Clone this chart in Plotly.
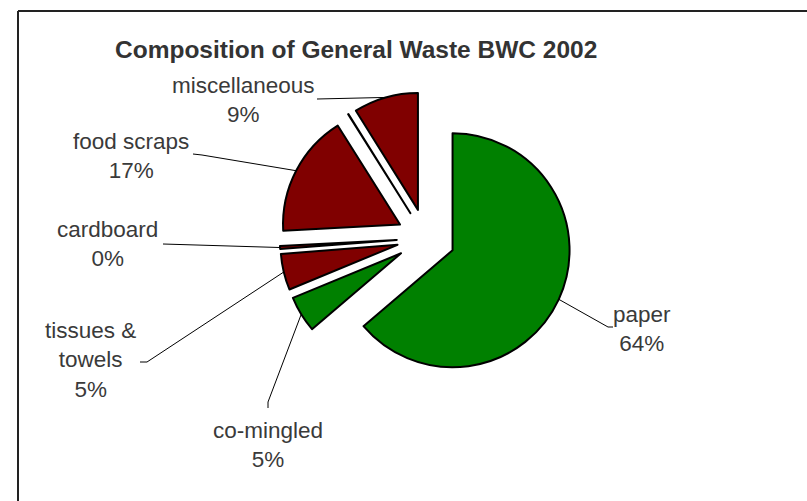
import numpy as np
import plotly.graph_objects as go

W, H = 807, 501

# data (clockwise from 12 o'clock)
labels = ["paper", "co-mingled", "tissues &<br>towels", "cardboard", "food scraps", "other", "miscellaneous"]
values = [63.8, 5.0, 5.0, 0.4, 16.9, 0.05, 8.9]
colors = ["#008000", "#008000", "#800000", "#800000", "#800000", "#800000", "#800000"]
show_label = [True, True, True, True, True, False, True]

# layout bits (pixels)
cx, cy, r, pull = 426, 238, 117, 0.25
label_xy = [(642, 329), (268, 445), (90, 360), (108, 244), (131, 156), (243, 100)]
leader_tail = [(613, 327), (268, 408), (140, 362), (163, 244), (193, 154), (317, 99)]
leader_bend = [(608, 327), (268, 402), (147, 362), (163, 244), (202, 155), (317, 99)]


def px(x):
    return x / W


def py(y):
    return 1 - y / H


half = r * (1 + pull)
fig = go.Figure(go.Pie(
    labels=labels, values=values, sort=False, direction="clockwise", rotation=0,
    pull=[pull] * len(values),
    marker=dict(colors=colors, line=dict(color="black", width=2)),
    textinfo="none", hoverinfo="label+percent", showlegend=False,
    domain=dict(x=[px(cx - half), px(cx + half)], y=[py(cy + half), py(cy - half)]),
))

total = sum(values)
start = np.cumsum([0] + values[:-1])
mid_deg = (start + np.array(values) / 2) / total * 360

font = dict(family="Liberation Sans, Arial, sans-serif", size=22.5, color="#3a3a3a")
annotations = []
shapes = []
j = 0
for i, lab in enumerate(labels):
    if not show_label[i]:
        continue
    pct = round(values[i] / total * 100)
    lx, ly = label_xy[j]
    annotations.append(dict(x=px(lx), y=py(ly), xref="paper", yref="paper",
                            text=f"{lab}<br>{pct}%", showarrow=False, font=font,
                            xanchor="center", yanchor="middle", align="center"))
    a = np.radians(mid_deg[i])
    ex = cx + half * np.sin(a)
    ey = cy - half * np.cos(a)
    tx, ty = leader_tail[j]
    bx, by = leader_bend[j]
    path = f"M{px(tx)},{py(ty)} L{px(bx)},{py(by)} L{px(ex)},{py(ey)}"
    shapes.append(dict(type="path", path=path, xref="paper", yref="paper",
                       line=dict(color="black", width=1)))
    j += 1

annotations.append(dict(x=px(356), y=py(50), xref="paper", yref="paper",
                        text="<b>Composition of General Waste BWC 2002</b>", showarrow=False,
                        font=dict(family="Liberation Sans, Arial, sans-serif", size=24.5, color="#333333"),
                        xanchor="center", yanchor="middle"))

# chart frame (only top and left edges are inside the picture)
shapes.append(dict(type="line", xref="paper", yref="paper", x0=px(18), y0=py(11), x1=1.02, y1=py(11),
                   line=dict(color="#222222", width=2)))
shapes.append(dict(type="line", xref="paper", yref="paper", x0=px(18), y0=py(11), x1=px(18), y1=-0.02,
                   line=dict(color="#222222", width=2)))

fig.update_layout(width=W, height=H, margin=dict(l=0, r=0, t=0, b=0),
                  paper_bgcolor="white", plot_bgcolor="white",
                  annotations=annotations, shapes=shapes)

# page body has an 8px default margin; drop it so the chart sits at the window corner
fig.write_html("out.html", config={"displayModeBar": False},
               post_script="document.body.style.margin='0';")
